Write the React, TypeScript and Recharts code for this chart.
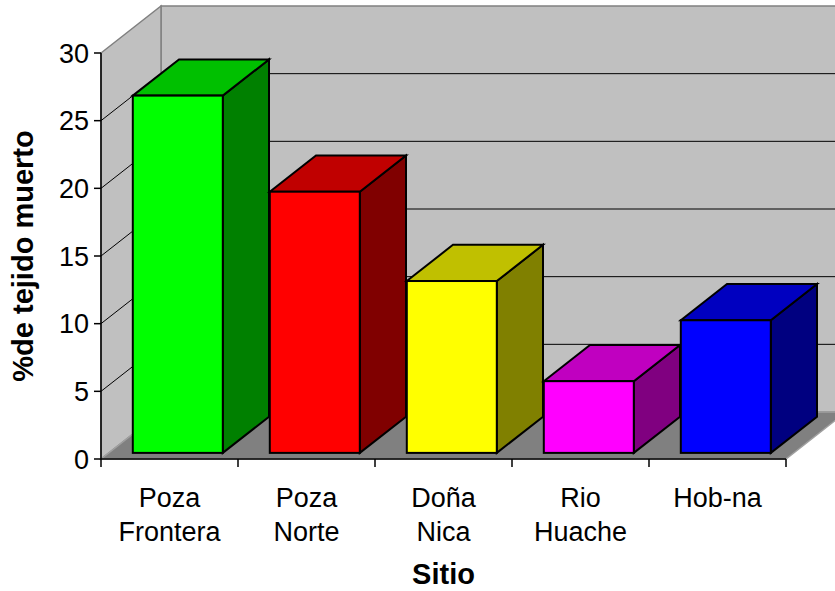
import React from 'react';
import { BarChart, Bar, XAxis, YAxis, CartesianGrid, ReferenceArea, Cell } from 'recharts';

const SITIOS = ['Poza Frontera', 'Poza Norte', 'Doña Nica', 'Rio Huache', 'Hob-na'];
const TEJIDO_MUERTO = [26.4, 19.3, 12.7, 5.3, 9.8];
const Y_TICKS = [0, 5, 10, 15, 20, 25, 30];

const data = SITIOS.map((sitio, i) => ({ sitio, valor: TEJIDO_MUERTO[i] }));

// colores de cada caja: cara frontal, tapa y costado
const FRENTE = ['#00ff00', '#ff0000', '#ffff00', '#ff00ff', '#0000ff'];
const TAPA = ['#00c000', '#c00000', '#c0c000', '#c000c0', '#0000c0'];
const COSTADO = ['#008000', '#800000', '#808000', '#800080', '#000080'];

const W = 835;
const H = 591;
const MARGIN = { top: 53, right: 49, bottom: 0, left: 41 };
const Y_AXIS_W = 60;
const X_AXIS_H = 132;
const PLOT_W = W - MARGIN.left - Y_AXIS_W - MARGIN.right;
const PLOT_BOTTOM = H - X_AXIS_H;
const BAND = PLOT_W / SITIOS.length;

// desplazamiento de la profundidad (piso y paredes)
const DX = 60;
const DY = -47;
// las cajas empiezan un poco detras del frente y ocupan casi todo el fondo
const BAR_OFF = 0.13;
const BAR_DEPTH = 0.77;

const FONT = '"Liberation Sans", Arial, sans-serif';
const TICK_SIZE = 27;
const TITLE_SIZE = 29;

const pts = (p: number[][]) => p.map(([a, b]) => `${a},${b}`).join(' ');

function Paredes(props: any) {
  const { x, y, width, height } = props;
  const b = y + height;
  const r = x + width;
  return (
    <g>
      <polygon
        points={pts([[x + DX, y + DY], [r + DX, y + DY], [r + DX, b + DY], [x + DX, b + DY]])}
        fill="#c0c0c0"
        stroke="#808080"
        strokeWidth={1.5}
      />
      <polygon
        points={pts([[x, y], [x + DX, y + DY], [x + DX, b + DY], [x, b]])}
        fill="#c0c0c0"
        stroke="#808080"
        strokeWidth={1.5}
      />
      <polygon
        points={pts([[x, b], [x + DX, b + DY], [r + DX, b + DY], [r, b]])}
        fill="#808080"
        stroke="#a0a0a0"
        strokeWidth={1.5}
      />
    </g>
  );
}

// linea de division: tramo inclinado en la pared izquierda y horizontal en el fondo
function LineaGuia(props: any) {
  const { x1, y1, x2 } = props;
  if (Math.abs(y1 - MARGIN.top) < 1 || Math.abs(y1 - PLOT_BOTTOM) < 1) return <g key={props.key} />;
  return (
    <polyline
      key={props.key}
      points={pts([[x1, y1], [x1 + DX, y1 + DY], [x2 + DX, y1 + DY]])}
      fill="none"
      stroke="#000"
      strokeWidth={1}
    />
  );
}

function Caja(props: any) {
  const { x, y, width, height, index } = props;
  const fx = x + DX * BAR_OFF;
  const fy = y + DY * BAR_OFF;
  const bx = DX * BAR_DEPTH;
  const by = DY * BAR_DEPTH;
  const r = fx + width;
  const b = fy + height;
  return (
    <g stroke="#000" strokeWidth={2}>
      <polygon fill={COSTADO[index]} points={pts([[r, fy], [r + bx, fy + by], [r + bx, b + by], [r, b]])} />
      <polygon fill={TAPA[index]} points={pts([[fx, fy], [fx + bx, fy + by], [r + bx, fy + by], [r, fy]])} />
      <rect x={fx} y={fy} width={width} height={height} fill={FRENTE[index]} />
    </g>
  );
}

function EtiquetaSitio(props: any) {
  const { x, index, payload } = props;
  const base = PLOT_BOTTOM;
  const lineas = String(payload.value).split(' ');
  const izq = x - BAND / 2;
  return (
    <g>
      <line x1={izq} y1={base} x2={izq} y2={base + 8} stroke="#000" strokeWidth={1.5} />
      {index === SITIOS.length - 1 && (
        <line x1={x + BAND / 2} y1={base} x2={x + BAND / 2} y2={base + 8} stroke="#000" strokeWidth={1.5} />
      )}
      <text x={x} y={base + 48} textAnchor="middle" fontSize={TICK_SIZE} fontFamily={FONT} fill="#000">
        {lineas.map((l, i) => (
          <tspan key={i} x={x} dy={i === 0 ? 0 : 34}>
            {l}
          </tspan>
        ))}
      </text>
    </g>
  );
}

function TituloY() {
  const cx = 33;
  const cy = (MARGIN.top + PLOT_BOTTOM) / 2;
  return (
    <text
      x={cx}
      y={cy}
      transform={`rotate(-90, ${cx}, ${cy})`}
      textAnchor="middle"
      fontSize={TITLE_SIZE}
      fontWeight="bold"
      fontFamily={FONT}
      fill="#000"
    >
      %de tejido muerto
    </text>
  );
}

function TituloX() {
  return (
    <text
      x={MARGIN.left + Y_AXIS_W + PLOT_W / 2}
      y={584}
      textAnchor="middle"
      fontSize={TITLE_SIZE}
      fontWeight="bold"
      fontFamily={FONT}
      fill="#000"
    >
      Sitio
    </text>
  );
}

export default function App() {
  return (
    <div style={{ position: 'fixed', left: 0, top: 0, width: W, height: H, background: '#fff', overflow: 'hidden' }}>
      <BarChart width={W} height={H} data={data} margin={MARGIN}>
        <ReferenceArea y1={0} y2={30} shape={Paredes} ifOverflow="visible" zIndex={-200} />
        <CartesianGrid horizontal={LineaGuia} vertical={false} />
        <XAxis
          dataKey="sitio"
          height={X_AXIS_H}
          tick={EtiquetaSitio}
          tickLine={false}
          tickSize={8}
          interval={0}
          axisLine={{ stroke: '#000', strokeWidth: 1.5 }}
          label={{ content: TituloX }}
        />
        <YAxis
          width={Y_AXIS_W}
          domain={[0, 30]}
          ticks={Y_TICKS}
          interval={0}
          tickSize={7}
          tickMargin={5}
          tick={{ fontSize: TICK_SIZE, fontFamily: FONT, fill: '#000' }}
          tickLine={{ stroke: '#000', strokeWidth: 1.5 }}
          axisLine={{ stroke: '#000', strokeWidth: 1.5 }}
          label={{ content: TituloY }}
        />
        <Bar dataKey="valor" barSize={90} shape={Caja} isAnimationActive={false}>
          {data.map((d, i) => (
            <Cell key={d.sitio} fill={FRENTE[i]} />
          ))}
        </Bar>
      </BarChart>
    </div>
  );
}
